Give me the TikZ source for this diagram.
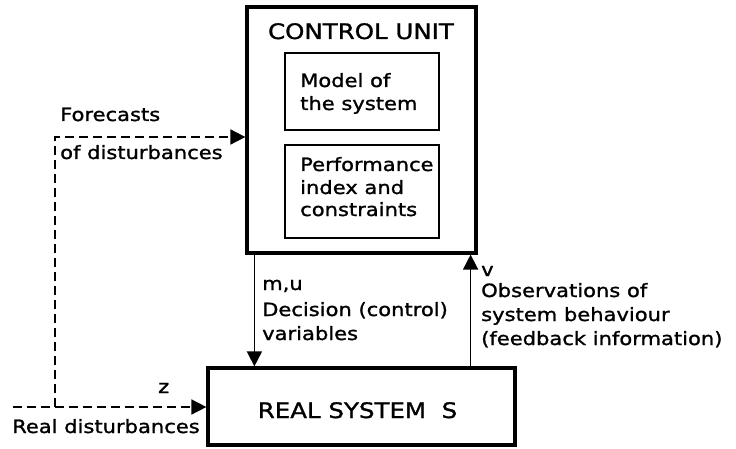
\documentclass[tikz,border=0pt]{standalone}
\usepackage{fontspec}
\setmainfont[FakeStretch=1.15,FakeBold=1.3]{DejaVu Sans}
\usetikzlibrary{arrows.meta,calc}
\newcommand{\lblfont}{\fontsize{18.3}{24}\selectfont}
\newcommand{\titlefont}{\fontsize{21.3}{24}\selectfont}
\begin{document}
\begin{tikzpicture}[x=1pt,y=-1pt,
  bigbox/.style={draw, line width=3.2pt, inner sep=0pt},
  innerbox/.style={draw, line width=2.2pt, inner sep=0pt},
  lbl/.style={inner sep=0pt, anchor=base west, align=left, font=\lblfont},
  ttl/.style={inner sep=0pt, anchor=base, font=\titlefont},
  flow/.style={line width=1.6pt, -{Triangle[length=15pt,width=15pt]}},
  dashflow/.style={flow, dash pattern=on 9pt off 5pt}]
\useasboundingbox (0,0) rectangle (736,449);

% blocks
\node[bigbox, minimum width=229pt, minimum height=246pt] (cu) at (361.5,130) {};
\node[innerbox, minimum width=154pt, minimum height=77pt] (model) at (362,91.5) {};
\node[innerbox, minimum width=154pt, minimum height=93pt] (perf) at (362,191.5) {};
\node[bigbox, minimum width=307pt, minimum height=77pt] (rs) at (361.5,406.5) {};

% block texts
\node[ttl] (cutitle) at (361,39) {CONTROL UNIT};
\node[lbl] (modeltxt) at (300,87) {Model of};
\node[lbl] (modeltxt2) at (300,110) {the system};
\node[lbl] (perftxt) at (300,171) {Performance};
\node[lbl] (perftxt2) at (300,194) {index and};
\node[lbl] (perftxt3) at (300,216) {constraints};
\node[ttl] (rstitle) at (357.5,418) {REAL SYSTEM\ \ S};

% control and feedback
\draw[flow] ([xshift=9pt]cu.south west) -- ([xshift=9pt]cu.south west |- rs.north);
\draw[flow] ([xshift=-7pt]cu.south east |- rs.north) -- ([xshift=-7pt]cu.south east);

\node[lbl] (mu) at (262,290) {m,u};
\node[lbl] (dec) at (262,316) {Decision (control)};
\node[lbl] (dec2) at (262,340) {variables};
\node[lbl] (v) at (481,276) {v};
\node[lbl] (obs) at (481,297) {Observations of};
\node[lbl] (obs2) at (481,321) {system behaviour};
\node[lbl] (obs3) at (481,345) {(feedback information)};

% disturbances
\coordinate (dl) at (13,407);
\coordinate (dj) at (55,407);
\coordinate (fc) at (55,137);
\draw[dashflow] (dl) -- (dl -| rs.west);
\draw[dashflow] (dj) -- (fc) -- (fc -| cu.west);

\node[lbl] (fore) at (60,121) {Forecasts};
\node[lbl] (fore2) at (60,159) {of disturbances};
\node[lbl] (z) at (158,393) {z};
\node[lbl] (real) at (12,433) {Real disturbances};
\end{tikzpicture}
\end{document}
